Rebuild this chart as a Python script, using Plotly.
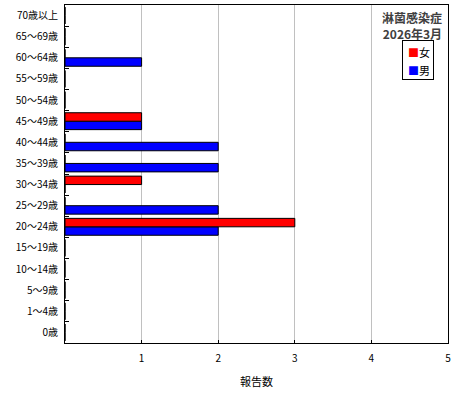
import plotly.graph_objects as go

ages = ["0歳", "1〜4歳", "5〜9歳", "10〜14歳", "15〜19歳", "20〜24歳", "25〜29歳",
        "30〜34歳", "35〜39歳", "40〜44歳", "45〜49歳", "50〜54歳", "55〜59歳",
        "60〜64歳", "65〜69歳", "70歳以上"]
male = [0, 0, 0, 0, 0, 2, 2, 0, 2, 2, 1, 0, 0, 1, 0, 0]
female = [0, 0, 0, 0, 0, 3, 0, 1, 0, 0, 1, 0, 0, 0, 0, 0]

FONT = "Noto Sans CJK JP"
RED = "#ff0000"
BLUE = "#0000ff"

fig = go.Figure()
# male first so it sits below female within each group
fig.add_trace(go.Bar(y=ages, x=male, name="男", orientation="h", showlegend=False,
                     marker=dict(color=BLUE, line=dict(color="black", width=1))))
fig.add_trace(go.Bar(y=ages, x=female, name="女", orientation="h", showlegend=False,
                     marker=dict(color=RED, line=dict(color="black", width=1))))

# hand-made legend: a bordered box plus one annotation per entry
legend = [
    dict(text="", xref="paper", yref="paper", x=0.922, y=0.837,
         xanchor="center", yanchor="middle", showarrow=False, width=30, height=38,
         bordercolor="black", borderwidth=1, borderpad=0, bgcolor="white"),
]
for name, color, ypos in [("女", RED, 0.861), ("男", BLUE, 0.809)]:
    legend.append(dict(text=f"<span style='color:{color}'>■</span>{name}",
                       xref="paper", yref="paper", x=0.925, y=ypos,
                       xanchor="center", yanchor="middle", showarrow=False,
                       font=dict(size=11)))

fig.update_layout(
    width=460, height=400,
    margin=dict(l=65, r=12, t=5, b=57),
    barmode="group", bargap=0.2, bargroupgap=0,
    plot_bgcolor="white", paper_bgcolor="white",
    font=dict(family=FONT, size=10, color="black"),
    xaxis=dict(range=[0, 5], tickvals=[1, 2, 3, 4, 5], showgrid=True,
               gridcolor="#c0c0c0", gridwidth=1, showline=True, linecolor="black",
               linewidth=1, mirror=True, zeroline=False, ticks="inside",
               ticklen=3, tickcolor="black", automargin=False,
               ticklabelstandoff=6,
               title=dict(text="報告数", font=dict(size=11), standoff=14),
               fixedrange=True),
    yaxis=dict(categoryorder="array", categoryarray=ages, showline=True,
               linecolor="black", linewidth=1, mirror=True, ticks="inside",
               tickson="boundaries", ticklen=4, tickcolor="black",
               showgrid=False, automargin=False, fixedrange=True,
               ticklabelstandoff=4, tickfont=dict(size=10)),
    annotations=[
        dict(text="<b>淋菌感染症<br> 2026年3月</b>", xref="paper", yref="paper",
             x=0.99, y=0.995, xanchor="right", yanchor="top",
             showarrow=False, align="right", font=dict(size=12, color="#404040")),
    ] + legend,
)

fig.write_html("out.html", config={"displayModeBar": False},
               post_script="document.body.style.margin='0';")
